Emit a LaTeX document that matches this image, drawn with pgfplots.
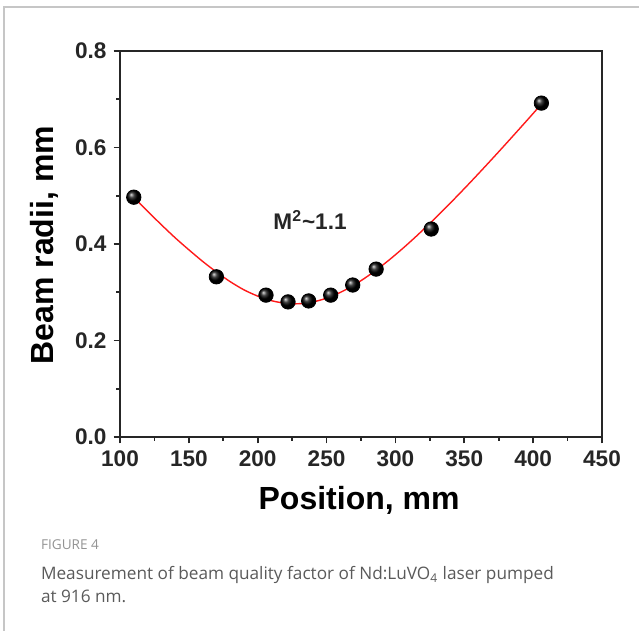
\documentclass[border=0pt]{standalone}
\usepackage{fontspec}
\setmainfont{Liberation Sans}
\newfontfamily\capfont{Open Sans}
\usepackage{pgfplots}
\pgfplotsset{compat=1.18}
\definecolor{fitred}{HTML}{FF1A1A}
\definecolor{capgray}{HTML}{5A5A5A}

\begin{document}
\begin{tikzpicture}
% page frame, 1 px of the reference = 0.5pt
\path[use as bounding box] (0,0) rectangle (319.5pt,315.5pt);
\draw[gray!45,line width=0.6pt] (2pt,0) -- (2pt,312pt) -- (319.5pt,312pt);

\begin{axis}[
  at={(60pt,97pt)}, anchor=south west,
  scale only axis,
  width=241pt, height=193pt,
  xmin=100, xmax=450,
  ymin=0, ymax=0.8,
  xtick={100,150,...,450},
  ytick={0,0.2,0.4,0.6,0.8},
  minor tick num=1,
  xtick pos=bottom, ytick pos=left,
  tick align=outside,
  major tick length=3.2pt,
  minor tick length=1.8pt,
  every tick/.style={black!85,line width=0.8pt},
  axis line style={black!85,line width=1pt},
  yticklabel style={/pgf/number format/fixed,/pgf/number format/fixed zerofill,/pgf/number format/precision=1},
  /pgf/number format/assume math mode=true,
  tick label style={font=\fontsize{11.3}{13}\selectfont\bfseries, text=black!85},
  xlabel={Position, mm},
  ylabel={Beam radii, mm},
  label style={font=\fontsize{16}{18}\selectfont\bfseries},
  xlabel style={at={(axis description cs:0.496,-0.163)}, anchor=center},
  ylabel style={at={(axis description cs:-0.156,0.497)}, anchor=center},
  clip=false
]
% fitted curve
\addplot[fitred,line width=0.7pt,smooth] coordinates {
  (110,0.497) (120,0.468) (130,0.440) (140,0.413) (150,0.388) (160,0.364)
  (170,0.342) (180,0.322) (190,0.305) (200,0.292) (210,0.2825) (220,0.2771)
  (227,0.276) (235,0.2775) (245,0.2833) (255,0.2933) (265,0.3069) (275,0.3240)
  (285,0.3438) (295,0.3659) (305,0.3900) (315,0.4157) (325,0.4428) (335,0.4709)
  (345,0.4999) (355,0.5297) (365,0.5602) (375,0.5912) (385,0.6227) (395,0.6545)
  (406,0.6899)};
% measured radii
\addplot[only marks,mark=ball,mark size=3.6pt,mark options={ball color=black}] coordinates {
  (110,0.497) (170,0.332) (206,0.294) (222,0.280) (237,0.282)
  (253,0.294) (269,0.315) (286,0.348) (326,0.431) (406,0.692)};
\node[font=\fontsize{11.3}{13}\selectfont\bfseries,text=black!85] at (axis cs:238,0.45) {M\textsuperscript{2}\textasciitilde1.1};
\end{axis}

\node[anchor=base west,font=\capfont\fontsize{6.8}{9}\selectfont,text=gray!85] at (17pt,40.5pt) {FIGURE 4};
\node[anchor=base west,font=\capfont\fontsize{8.6}{10}\selectfont,text=capgray] at (17pt,25.5pt) {Measurement of beam quality factor of Nd:LuVO\textsubscript{4} laser pumped};
\node[anchor=base west,font=\capfont\fontsize{8.6}{10}\selectfont,text=capgray] at (17pt,14pt) {at 916 nm.};
\end{tikzpicture}
\end{document}
